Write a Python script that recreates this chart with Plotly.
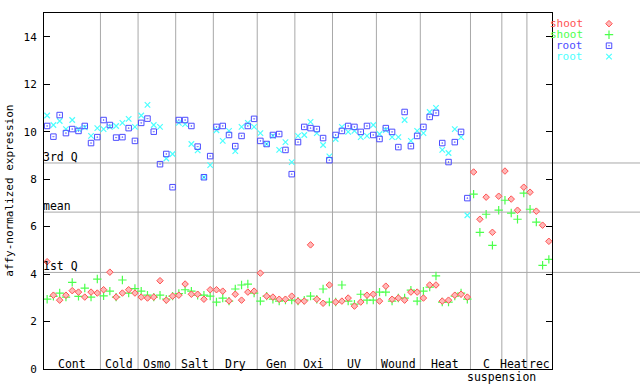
import numpy as np
import plotly.graph_objects as go

nan = float("nan")

groups = ["Cont", "Cold", "Osmo", "Salt", "Dry", "Gen", "Oxi", "UV", "Wound", "Heat", "C", "Heat", "rec"]
group_sizes = [9, 6, 6, 6, 7, 6, 6, 7, 7, 8, 5, 4, 4]
sub_label = "suspension"

shoot_1 = [4.52, 3.11, 2.90, 3.11, 3.30, 3.24, 3.03, 3.24, 3.20,
           3.34, 4.08, 3.03, 3.20, 3.34, 3.20,
           3.03, 2.99, 3.03, 3.72, 2.90, 3.07,
           3.11, 3.58, 3.15, 3.15, 2.94, 3.34,
           3.34, 3.28, 2.87, 3.15, 2.90, 3.24, 3.28,
           4.04, 3.07, 3.03, 2.94, 2.94, 3.07,
           2.86, 2.86, 5.23, 2.94, 2.77, 3.54,
           2.82, 2.86, 2.99, 2.65, 2.82, 3.11, 3.15,
           2.86, 3.49, 2.94, 2.99, 2.90, 3.24, 3.24,
           2.99, 3.54, 3.54, 2.86, 2.90, 3.11, 3.15, 3.03,
           8.30, 6.31, 7.24, 5.76, 7.28,
           8.34, 7.16, 6.69, 7.66,
           7.45, 6.65, 6.06, 5.38]

shoot_2 = [2.94, 3.06, 3.20, 3.03, 3.65, 3.06, 3.41, 3.03, 3.79,
           3.08, 3.28, 3.03, 3.75, 3.20, 3.39,
           3.28, 3.11, 3.03, 3.11, 2.94, 3.07,
           3.18, 3.34, 3.28, 3.11, 3.11, 3.07,
           2.82, 2.99, 2.86, 3.37, 3.54, 3.58, 3.20,
           2.86, 3.07, 2.94, 2.86, 2.90, 2.90,
           2.86, 2.90, 3.07, 2.94, 3.37, 2.82,
           2.82, 3.54, 2.86, 2.73, 3.15, 2.90, 2.90,
           3.24, 3.24, 2.86, 2.99, 2.99, 3.32, 2.86,
           3.28, 3.45, 3.92, 2.82, 2.82, 3.07, 3.20, 2.94,
           7.37, 5.76, 6.52, 5.21, 6.69,
           7.11, 6.57, 6.31, 7.41,
           6.73, 6.19, 4.37, 4.62]

root_1 = [10.24, 9.79, 10.70, 9.94, 10.11, 10.03, 10.24, 9.52, 9.77,
          10.49, 10.28, 9.75, 9.77, 10.15, 9.61,
          10.37, 10.55, 10.00, 8.63, 9.06, 7.66,
          10.49, 10.49, 10.24, 9.37, 8.08, 8.97,
          10.20, 10.24, 9.86, 9.39, 9.82, 10.24, 10.54,
          9.61, 9.48, 9.86, 9.90, 9.23, 8.21,
          9.56, 10.20, 10.15, 10.11, 9.73, 8.80,
          9.86, 10.03, 10.24, 10.20, 9.99, 10.24, 9.86,
          9.69, 10.15, 9.99, 9.35, 10.83, 9.39, 9.82,
          10.20, 10.62, 10.79, 9.52, 8.72, 9.56, 9.99, 7.20,
          nan, nan, nan, nan, nan,
          nan, nan, nan, nan,
          nan, nan, nan, nan]

root_2 = [10.68, 10.28, 10.45, 10.11, 10.49, 10.11, 10.18, 9.82, 10.15,
          10.11, 10.20, 10.24, 10.37, 10.54, 10.20,
          10.68, 11.13, 10.28, 10.20, 8.87, 9.06,
          10.37, 10.32, 9.48, 9.21, 8.08, 8.59,
          10.06, 9.61, 10.03, 9.18, 10.20, 10.37, 10.20,
          9.94, 9.48, 9.82, 9.23, 9.56, 8.72,
          9.82, 9.86, 10.41, 9.94, 9.44, 8.96,
          9.69, 10.20, 9.99, 10.03, 9.77, 9.82, 10.28,
          9.90, 10.07, 9.77, 9.77, 10.49, 9.61, 10.03,
          9.94, 10.83, 11.00, 9.23, 9.10, 10.11, 9.77, 6.48,
          nan, nan, nan, nan, nan,
          nan, nan, nan, nan,
          nan, nan, nan, nan]

q3_value = 8.68
mean_value = 6.61
q1_value = 4.07
stat_labels = ["3rd Q", "mean", "1st Q"]

y_ticks = [0, 2, 4, 6, 8, 10, 12, 14]
series_names = ["shoot", "shoot", "root", "root"]

FONT = "DejaVu Sans Mono"
RED = "#ff5252"
GREEN = "#4cff4c"
BLUE = "#4c4cff"
CYAN = "#4cffff"
GRID = "#a8a8a8"

n = len(shoot_1)
xs = np.arange(n)

styles = [
    dict(symbol="diamond", size=5, color="#ffb8b8", line=dict(color=RED, width=1)),
    dict(symbol="cross-thin-open", size=6, color=GREEN, line=dict(color=GREEN, width=1.2)),
    dict(symbol="square-open-dot", size=5.5, color=BLUE, line=dict(color=BLUE, width=1)),
    dict(symbol="x-thin-open", size=5.5, color=CYAN, line=dict(color=CYAN, width=1.2)),
]
colors = [RED, GREEN, BLUE, CYAN]
data = [shoot_1, shoot_2, root_1, root_2]

fig = go.Figure()

for k in [3, 2, 1, 0]:
    fig.add_trace(go.Scatter(x=xs, y=data[k], mode="markers", marker=styles[k],
                             showlegend=False, hoverinfo="skip", cliponaxis=False))

# legend markers on auxiliary pixel axes
leg_rows = [23.7, 34.7, 45.7, 56.7]
for k in range(4):
    fig.add_trace(go.Scatter(x=[609], y=[leg_rows[k]], mode="markers", marker=styles[k],
                             xaxis="x2", yaxis="y2", showlegend=False, hoverinfo="skip"))

W, H = 640, 384
ML, MR, MT, MB = 44, 0, 13, 15
plot_w = 508
paper_w = W - ML - MR
dom_end = plot_w / paper_w

shapes = []
bounds = np.cumsum(group_sizes) - 0.5
for b in bounds[:-1]:
    shapes.append(dict(type="line", xref="x", yref="paper", x0=b, x1=b, y0=0, y1=1,
                       line=dict(color=GRID, width=1), layer="below"))
for v in [q3_value, mean_value, q1_value]:
    shapes.append(dict(type="line", xref="paper", yref="y", x0=0, x1=1, y0=v, y1=v,
                       line=dict(color=GRID, width=1), layer="below"))

annotations = []
starts = np.concatenate([[0], np.cumsum(group_sizes)[:-1]])
for g, s, sz in zip(groups, starts, group_sizes):
    cx = s - 0.5 + sz / 2.0
    annotations.append(dict(x=cx, y=0, xref="x", yref="paper", text=g, showarrow=False,
                            xanchor="center", yanchor="middle", yshift=4.7,
                            font=dict(family=FONT, size=11.5, color="black")))
annotations.append(dict(x=bounds[10], y=0, xref="x", yref="paper", text=sub_label, showarrow=False,
                        xanchor="center", yanchor="middle", yshift=-7.7,
                        font=dict(family=FONT, size=11.5, color="black")))
for lab, v in zip(stat_labels, [q3_value, mean_value, q1_value]):
    annotations.append(dict(x=0, y=v, xref="paper", yref="y", text=lab, showarrow=False,
                            xanchor="left", yanchor="bottom", yshift=-3, xshift=-3,
                            font=dict(family=FONT, size=11.5, color="black")))
for k in range(4):
    annotations.append(dict(x=585, y=leg_rows[k], xref="x2", yref="y2", text=series_names[k],
                            showarrow=False, xanchor="right", yanchor="middle",
                            font=dict(family=FONT, size=11, color=colors[k])))
annotations.append(dict(x=-30 / plot_w, y=0.5, xref="paper", yref="paper",
                        text="affy-normalized expression", textangle=-90, showarrow=False,
                        xanchor="center", yanchor="middle",
                        font=dict(family=FONT, size=11, color="black")))

fig.update_layout(
    width=W, height=H,
    margin=dict(l=ML, r=MR, t=MT, b=MB, pad=0),
    paper_bgcolor="white", plot_bgcolor="white",
    showlegend=False,
    xaxis=dict(domain=[0, dom_end], range=[-0.5, n - 0.5], showticklabels=False, ticks="",
               showline=True, linecolor="black", linewidth=1, mirror=True,
               showgrid=False, zeroline=False),
    yaxis=dict(range=[0, 15], tickvals=y_ticks, ticks="inside", ticklen=6, tickcolor="black",
               showline=True, linecolor="black", linewidth=1, mirror="ticks",
               showgrid=False, zeroline=False, ticklabelstandoff=4,
               tickfont=dict(family=FONT, size=11, color="black")),
    xaxis2=dict(domain=[dom_end, 1], range=[ML + plot_w, W], visible=False, anchor="y2"),
    yaxis2=dict(domain=[0, 1], range=[H - MB, MT], visible=False, anchor="x2"),
    shapes=shapes,
    annotations=annotations,
)

fig.write_html("out.html", config={"displayModeBar": False},
               post_script="document.body.style.margin='0';document.body.style.padding='0';")
